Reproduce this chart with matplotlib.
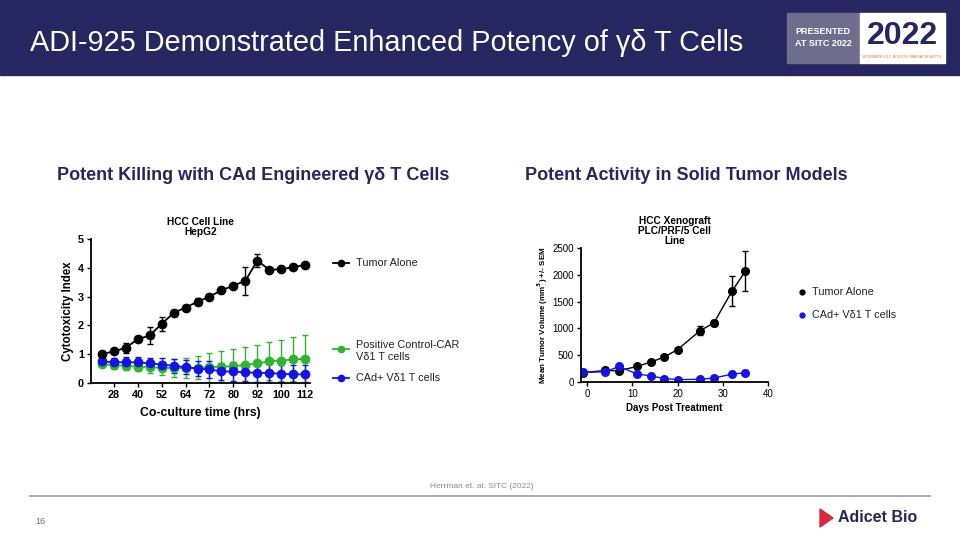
import matplotlib
matplotlib.use("Agg")
import matplotlib.pyplot as plt
from matplotlib.patches import Rectangle, Polygon
from matplotlib.lines import Line2D

plt.rcParams['font.family'] = ['Liberation Sans', 'DejaVu Sans']

navy = "#262660"

# left chart: cytotoxicity index over co-culture time (18 time points)
tick_labels = ["28", "40", "52", "64", "72", "80", "92", "100", "112"]
tumor_ci = [1.0, 1.1, 1.22, 1.52, 1.65, 2.05, 2.43, 2.62, 2.82, 3.0, 3.22, 3.38, 3.55, 4.25, 3.93, 3.95, 4.02, 4.1]
tumor_ci_err = [0.05, 0.05, 0.18, 0.07, 0.28, 0.25, 0.12, 0.1, 0.12, 0.1, 0.1, 0.07, 0.48, 0.22, 0.05, 0.05, 0.05, 0.05]
car_ci = [0.65, 0.62, 0.6, 0.57, 0.55, 0.53, 0.52, 0.52, 0.53, 0.55, 0.57, 0.58, 0.63, 0.68, 0.75, 0.78, 0.82, 0.84]
car_ci_err = [0.1, 0.12, 0.15, 0.17, 0.2, 0.25, 0.3, 0.35, 0.4, 0.5, 0.55, 0.6, 0.62, 0.64, 0.66, 0.7, 0.76, 0.82]
cad_ci = [0.75, 0.72, 0.72, 0.72, 0.68, 0.64, 0.6, 0.55, 0.5, 0.47, 0.4, 0.4, 0.37, 0.35, 0.35, 0.32, 0.3, 0.3]
cad_ci_err = [0.12, 0.15, 0.17, 0.2, 0.2, 0.22, 0.25, 0.25, 0.25, 0.28, 0.3, 0.32, 0.3, 0.32, 0.32, 0.32, 0.32, 0.32]

# right chart: xenograft tumor volume
days = [-1, 4, 7, 11, 14, 17, 20, 25, 28, 32, 35]
tumor_vol = [175, 215, 210, 290, 370, 465, 605, 960, 1100, 1690, 2070]
tumor_vol_err = [30, 30, 25, 25, 25, 30, 35, 80, 60, 280, 370]
cad_vol = [180, 190, 290, 150, 115, 65, 45, 50, 75, 145, 175]
cad_vol_err = [15, 15, 20, 15, 15, 10, 10, 10, 15, 20, 50]

fig = plt.figure(figsize=(9.6, 5.4), dpi=100)
fig.patch.set_facecolor("white")

# header
fig.add_artist(Rectangle((0, 1 - 75 / 540), 1, 75 / 540, transform=fig.transFigure, color=navy, zorder=0))
fig.text(30 / 960, 1 - 43 / 540, "ADI-925 Demonstrated Enhanced Potency of γδ T Cells",
         color="white", fontsize=20.8, va="center", ha="left")
fig.add_artist(Rectangle((787 / 960, 1 - 63 / 540), 73 / 960, 50 / 540, transform=fig.transFigure,
                         color="#6e6e8c", zorder=1))
fig.text(823 / 960, 1 - 32 / 540, "PRESENTED", color="white", fontsize=6.5, fontweight="bold", ha="center", va="center")
fig.text(823 / 960, 1 - 44 / 540, "AT SITC 2022", color="white", fontsize=6.5, fontweight="bold", ha="center", va="center")
fig.add_artist(Rectangle((860 / 960, 1 - 63 / 540), 85 / 960, 50 / 540, transform=fig.transFigure,
                         color="white", zorder=1))
fig.text(902 / 960, 1 - 36 / 540, "2022", color=navy, fontsize=23, fontweight="bold", ha="center", va="center")
fig.text(902 / 960, 1 - 57 / 540, "NOVEMBER 8-12  BOSTON  MASSACHUSETTS", color="#d08030", fontsize=2.6, ha="center", va="center")

# section subtitles
fig.text(57 / 960, 1 - 176 / 540, "Potent Killing with CAd Engineered γδ T Cells",
         color=navy, fontsize=13, fontweight="bold", ha="left", va="center")
fig.text(525 / 960, 1 - 176 / 540, "Potent Activity in Solid Tumor Models",
         color=navy, fontsize=13, fontweight="bold", ha="left", va="center")

black = "black"
green = "#2fb52f"
blue = "#1414e0"

# left chart
ax1 = fig.add_axes([91 / 960, 1 - 383 / 540, 219 / 960, 144 / 540])
x_idx = list(range(len(tumor_ci)))
for vals, errs, col in [(car_ci, car_ci_err, green), (cad_ci, cad_ci_err, blue), (tumor_ci, tumor_ci_err, black)]:
    ax1.errorbar(x_idx, vals, yerr=errs, color=col, marker="o", markersize=6, linewidth=1.3,
                 elinewidth=1.0, capsize=2.5)
ax1.set_xlim(-0.9, 17.4)
ax1.set_ylim(0, 5)
ax1.set_yticks([0, 1, 2, 3, 4, 5])
ax1.set_xticks(x_idx[1::2])
ax1.set_xticklabels(tick_labels)
ax1.set_title("HCC Cell Line\nHepG2", fontsize=7.3, fontweight="bold", pad=3, linespacing=1.0)
ax1.set_xlabel("Co-culture time (hrs)", fontsize=8.8, fontweight="bold", labelpad=5)
ax1.set_ylabel("Cytotoxicity Index", fontsize=8.3, fontweight="bold", labelpad=3)

# right chart
ax2 = fig.add_axes([581 / 960, 1 - 382 / 540, 187 / 960, 134 / 540])
ax2.errorbar(days, tumor_vol, yerr=tumor_vol_err, color=black, marker="o", markersize=5.5,
             linewidth=1.0, elinewidth=1.0, capsize=2.5)
ax2.errorbar(days, cad_vol, yerr=cad_vol_err, color=blue, marker="o", markersize=5.5,
             linewidth=1.0, elinewidth=1.0, capsize=2.5)
ax2.set_xlim(-1.4, 40)
ax2.set_ylim(0, 2500)
ax2.set_xticks([0, 10, 20, 30, 40])
ax2.set_yticks([0, 500, 1000, 1500, 2000, 2500])
ax2.set_title("HCC Xenograft\nPLC/PRF/5 Cell\nLine", fontsize=7.3, fontweight="bold", pad=3, linespacing=1.0)
ax2.set_xlabel("Days Post Treatment", fontsize=7, fontweight="bold", labelpad=3)
ax2.set_ylabel("Mean Tumor Volume (mm$^\\mathbf{3}$) +/- SEM", fontsize=5.8, fontweight="bold", labelpad=2)

for ax in (ax1, ax2):
    ax.spines["top"].set_visible(False)
    ax.spines["right"].set_visible(False)
    for s in ("left", "bottom"):
        ax.spines[s].set_linewidth(1.3)
    ax.tick_params(direction="out", length=3, width=1.0, labelsize=7.8 if ax is ax1 else 7, pad=2)
    if ax is ax1:
        for lbl in ax.get_xticklabels() + ax.get_yticklabels():
            lbl.set_fontweight("bold")

# left legend (drawn by hand to keep its uneven spacing)
def leg_line(xc, yc, col, text, ty=None):
    fig.add_artist(Line2D([(xc - 8) / 960, (xc + 8) / 960], [1 - yc / 540] * 2, color=col, lw=1.3,
                          transform=fig.transFigure))
    fig.add_artist(Line2D([xc / 960], [1 - yc / 540], color=col, marker="o", markersize=4.5,
                          transform=fig.transFigure))
    fig.text((xc + 15) / 960, 1 - (ty if ty else yc) / 540, text, fontsize=7.8, va="center", ha="left", color="#222222")

leg_line(341, 263, black, "Tumor Alone")
leg_line(341, 349, green, "Positive Control-CAR\nVδ1 T cells", ty=351)
leg_line(341, 378, blue, "CAd+ Vδ1 T cells")

# right legend (dots only)
for yc, col, text in [(292, black, "Tumor Alone"), (315, blue, "CAd+ Vδ1 T cells")]:
    fig.add_artist(Line2D([802 / 960], [1 - yc / 540], color=col, marker="o", markersize=3.5,
                          linestyle="none", transform=fig.transFigure))
    fig.text(812 / 960, 1 - yc / 540, text, fontsize=7.8, va="center", ha="left", color="#222222")

# footer
fig.text(482 / 960, 1 - 487 / 540, "Herrman et. al. SITC (2022)", fontsize=6, color="#8a8aa0", ha="center", va="center")
fig.add_artist(Line2D([30 / 960, 930 / 960], [1 - 496 / 540] * 2, color="#9a9ab8", lw=1.2, transform=fig.transFigure))
fig.text(35 / 960, 1 - 521 / 540, "16", fontsize=6.5, color="#6a6a90", ha="left", va="center")
fig.add_artist(Polygon([(820 / 960, 1 - 509 / 540), (833 / 960, 1 - 518 / 540), (820 / 960, 1 - 527 / 540)],
                       closed=True, color="#d8283a", transform=fig.transFigure))
fig.text(838 / 960, 1 - 518 / 540, "Adicet Bio", fontsize=11.5, fontweight="bold", color="#262650", ha="left", va="center")

fig.savefig("out.png", dpi=100)
